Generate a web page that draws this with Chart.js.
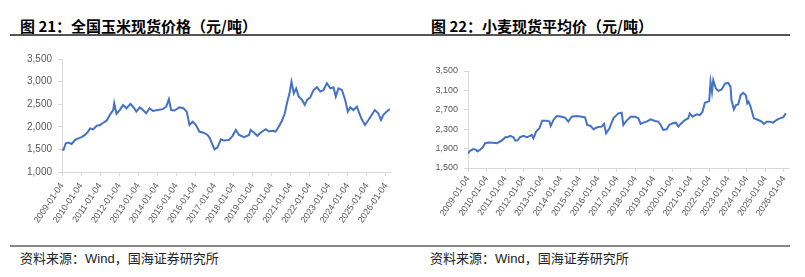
<!DOCTYPE html>
<html>
<head>
<meta charset="utf-8">
<script src="https://cdn.jsdelivr.net/npm/chart.js@4.4.0/dist/chart.umd.min.js"></script>
<style>
  body { margin: 0; background: #fff; width: 805px; height: 277px; position: relative; overflow: hidden; }
  .title { position: absolute; top: 15px; font: bold 15px "Noto Sans CJK SC", sans-serif; color: #000; white-space: nowrap; }
  .source { position: absolute; top: 248px; font: 13px "Noto Sans CJK SC", sans-serif; color: #222; white-space: nowrap; }
  .source span { font-family: "Liberation Sans", Arial, sans-serif; }
  .rule { position: absolute; height: 2px; }
  .box { position: absolute; }
</style>
</head>
<body>
<div class="title" style="left:20px">图 21：全国玉米现货价格（元/吨）</div>
<div class="title" style="left:431px">图 22：小麦现货平均价（元/吨）</div>
<div class="rule" style="left:10px; width:780px; top:34px; background:#555"></div>
<div class="rule" style="left:10px; width:780px; top:245px; background:#888"></div>
<div class="source" style="left:20px">资料来源：<span>Wind</span>，国海证券研究所</div>
<div class="source" style="left:430px">资料来源：<span>Wind</span>，国海证券研究所</div>
<div class="box" style="left:0; top:40px; width:400px; height:200px"><canvas id="cornChart"></canvas></div>
<div class="box" style="left:405px; top:40px; width:395px; height:200px"><canvas id="wheatChart"></canvas></div>
<script>
// 全国玉米现货价格
const cornDates = [
  '2009-01-04','2009-02-03','2009-03-17','2009-05-08','2009-07-08','2009-09-13','2009-11-14',
  '2010-01-15','2010-03-20','2010-05-22','2010-06-25','2010-08-25','2010-10-30',
  '2011-01-04','2011-03-05','2011-05-08','2011-07-08','2011-09-12','2011-10-01','2011-11-14',
  '2012-01-15','2012-03-20','2012-05-22','2012-08-08','2012-09-27','2012-11-28',
  '2013-02-03','2013-04-05','2013-06-06','2013-08-10','2013-10-12',
  '2014-01-15','2014-04-20','2014-06-25','2014-08-15','2014-09-27','2014-11-28',
  '2015-03-05','2015-05-18','2015-07-22','2015-09-13','2015-11-14',
  '2016-01-15','2016-03-20','2016-06-05','2016-08-25','2016-10-08','2016-11-28',
  '2017-01-04','2017-03-05','2017-05-08','2017-07-08','2017-10-12','2017-12-18',
  '2018-02-18','2018-04-20','2018-07-27','2018-10-30','2018-11-28',
  '2019-02-03','2019-04-05','2019-06-06','2019-09-13','2019-11-14',
  '2020-01-15','2020-03-20','2020-05-22','2020-07-27','2020-09-13','2020-10-30','2020-12-12',
  '2021-01-19','2021-03-05','2021-04-20','2021-06-06','2021-08-10','2021-10-01','2021-11-14',
  '2022-01-15','2022-03-20','2022-05-22','2022-07-27','2022-09-27','2022-11-28',
  '2023-02-03','2023-04-05','2023-05-18','2023-07-08','2023-09-13','2023-11-14',
  '2024-01-04','2024-02-18','2024-04-20','2024-06-25','2024-08-25','2024-09-27','2024-11-28',
  '2025-02-03','2025-04-05','2025-06-06','2025-08-10','2025-10-01','2025-11-14',
  '2026-01-15','2026-03-20'
];
const cornValues = [
  1500, 1490, 1635, 1650, 1620, 1710, 1745,
  1770, 1820, 1900, 1965, 1945, 2020,
  2040, 2090, 2135, 2260, 2370, 2520, 2285,
  2370, 2480, 2410, 2505, 2445, 2335,
  2430, 2370, 2300, 2410, 2350,
  2370, 2390, 2445, 2610, 2370, 2360,
  2430, 2410, 2335, 2040, 2115,
  2040, 1895, 1870, 1820, 1745, 1600,
  1500, 1545, 1725, 1695, 1710, 1800,
  1930, 1820, 1770, 1820, 1930,
  1870, 1800, 1870, 1945, 1895,
  1910, 1895, 2005, 2150, 2300, 2555, 2740,
  3000, 2740, 2850, 2670, 2595, 2485, 2595,
  2650, 2815, 2875, 2780, 2815, 2965,
  2850, 2875, 2670, 2850, 2815, 2595,
  2335, 2430, 2370, 2445, 2260, 2165, 2040,
  2150, 2260, 2370, 2300, 2150, 2260,
  2335, 2390
];

// 小麦现货平均价
const wheatDates = [
  '2009-01-04','2009-01-30','2009-03-01','2009-04-20','2009-06-14','2009-07-08','2009-08-30','2009-10-23','2009-12-06',
  '2010-02-10','2010-05-18','2010-07-22','2010-09-27','2010-12-01',
  '2011-01-06','2011-02-18','2011-04-12','2011-06-16','2011-07-20','2011-09-03','2011-10-23',
  '2012-01-01','2012-03-04','2012-05-08','2012-06-10','2012-07-12','2012-09-03','2012-11-07',
  '2013-01-01','2013-04-02','2013-05-23','2013-06-18','2013-08-10','2013-10-12',
  '2014-01-19','2014-03-25','2014-05-30','2014-08-04','2014-11-10',
  '2015-02-18','2015-04-23','2015-06-06','2015-08-10','2015-10-04','2015-12-20',
  '2016-03-13','2016-04-30','2016-06-10','2016-08-15','2016-10-30',
  '2017-02-06','2017-04-12','2017-05-15','2017-07-20','2017-10-04',
  '2018-01-01','2018-03-07','2018-04-20','2018-06-10','2018-08-15','2018-11-03',
  '2019-01-27','2019-04-01','2019-05-18','2019-07-08','2019-09-13','2019-11-03',
  '2020-01-08','2020-03-13','2020-04-30','2020-06-14','2020-09-06','2020-11-10','2020-12-12',
  '2021-02-06','2021-04-23','2021-06-27','2021-08-18','2021-10-04','2021-12-28',
  '2022-01-23','2022-02-20','2022-03-17','2022-05-08','2022-06-25','2022-08-30','2022-11-03',
  '2023-01-06','2023-02-20','2023-03-10','2023-04-27','2023-06-06','2023-07-20','2023-09-06','2023-10-27','2023-12-18',
  '2024-01-15','2024-02-10','2024-03-20','2024-05-22','2024-08-18','2024-10-23','2024-12-06',
  '2025-01-30','2025-04-01','2025-06-06','2025-08-10','2025-10-15','2025-12-20',
  '2026-02-10'
];
const wheatValues = [
  1794, 1841, 1862, 1889, 1875, 1841, 1875, 1930, 2012,
  2026, 2019, 2012, 2046, 2094,
  2135, 2135, 2162, 2135, 2067, 2067, 2135,
  2162, 2135, 2162, 2183, 2114, 2251, 2319,
  2476, 2476, 2456, 2367, 2490, 2572,
  2558, 2538, 2456, 2558, 2572,
  2558, 2544, 2387, 2367, 2299, 2340,
  2353, 2408, 2217, 2319, 2524,
  2626, 2640, 2387, 2476, 2558,
  2558, 2524, 2408, 2435, 2456, 2503,
  2469, 2456, 2387, 2285, 2299, 2387,
  2422, 2435, 2353, 2408, 2490, 2524, 2626,
  2558, 2606, 2592, 2660, 2845, 2879,
  3275, 3070, 3310, 3138, 3090, 3118, 3241,
  3254, 3172, 2900, 2708, 2797, 2810, 3002, 3050, 3002,
  2831, 2865, 2763, 2524, 2490, 2456, 2408,
  2456, 2456, 2435, 2490, 2524, 2544,
  2626
];

const tickYears = [2009, 2010, 2011, 2012, 2013, 2014, 2015, 2016, 2017, 2018, 2019, 2020, 2021, 2022, 2023, 2024, 2025, 2026];

// position on the x axis: year plus fraction measured from 01-04
function toYear(s) {
  const [y, m, d] = s.split('-').map(Number);
  return y + (Date.UTC(y, m - 1, d) - Date.UTC(y, 0, 4)) / (365.25 * 864e5);
}

const axisColor = '#d9d9d9';
const fontFamily = '"Liberation Sans", Arial, sans-serif';

function makeChart(id, dates, values, opts) {
  const points = dates.map((d, i) => ({ x: toYear(d), y: values[i] }));
  return new Chart(document.getElementById(id), {
    type: 'line',
    data: {
      datasets: [{
        data: points,
        borderColor: '#4472C4',
        borderWidth: 2,
        pointRadius: 0,
        tension: 0
      }]
    },
    options: {
      responsive: true,
      maintainAspectRatio: false,
      animation: false,
      layout: { padding: { top: opts.padTop, right: opts.padRight, left: 0, bottom: 0 } },
      plugins: { legend: { display: false }, tooltip: { enabled: false } },
      scales: {
        x: {
          type: 'linear',
          min: tickYears[0],
          max: 2026.22,
          afterBuildTicks: (scale) => { scale.ticks = tickYears.map(v => ({ value: v })); },
          afterFit: (scale) => { scale.height = opts.xHeight; },
          ticks: {
            autoSkip: false,
            maxRotation: 56,
            minRotation: 56,
            color: '#595959',
            font: { family: fontFamily, size: 9 },
            padding: opts.xPad,
            callback: (v) => v + '-01-04'
          },
          grid: { drawOnChartArea: false, color: axisColor, tickLength: 4 },
          border: { color: axisColor }
        },
        y: {
          min: opts.yMin,
          max: opts.yMax,
          afterFit: (scale) => { scale.width = opts.yWidth; },
          ticks: {
            stepSize: opts.yStep,
            color: '#595959',
            font: { family: fontFamily, size: opts.ySize },
            padding: 6,
            callback: (v) => v.toLocaleString('en-US')
          },
          grid: { drawOnChartArea: false, color: axisColor, tickLength: 4 },
          border: { color: axisColor }
        }
      }
    }
  });
}

makeChart('cornChart', cornDates, cornValues,
  { yMin: 1000, yMax: 3500, yStep: 500, yWidth: 62, ySize: 10, padTop: 19, padRight: 8, xHeight: 68, xPad: 5 });
makeChart('wheatChart', wheatDates, wheatValues,
  { yMin: 1500, yMax: 3500, yStep: 200, yWidth: 63, ySize: 9, padTop: 31, padRight: 12, xHeight: 72, xPad: 2 });
</script>
</body>
</html>
